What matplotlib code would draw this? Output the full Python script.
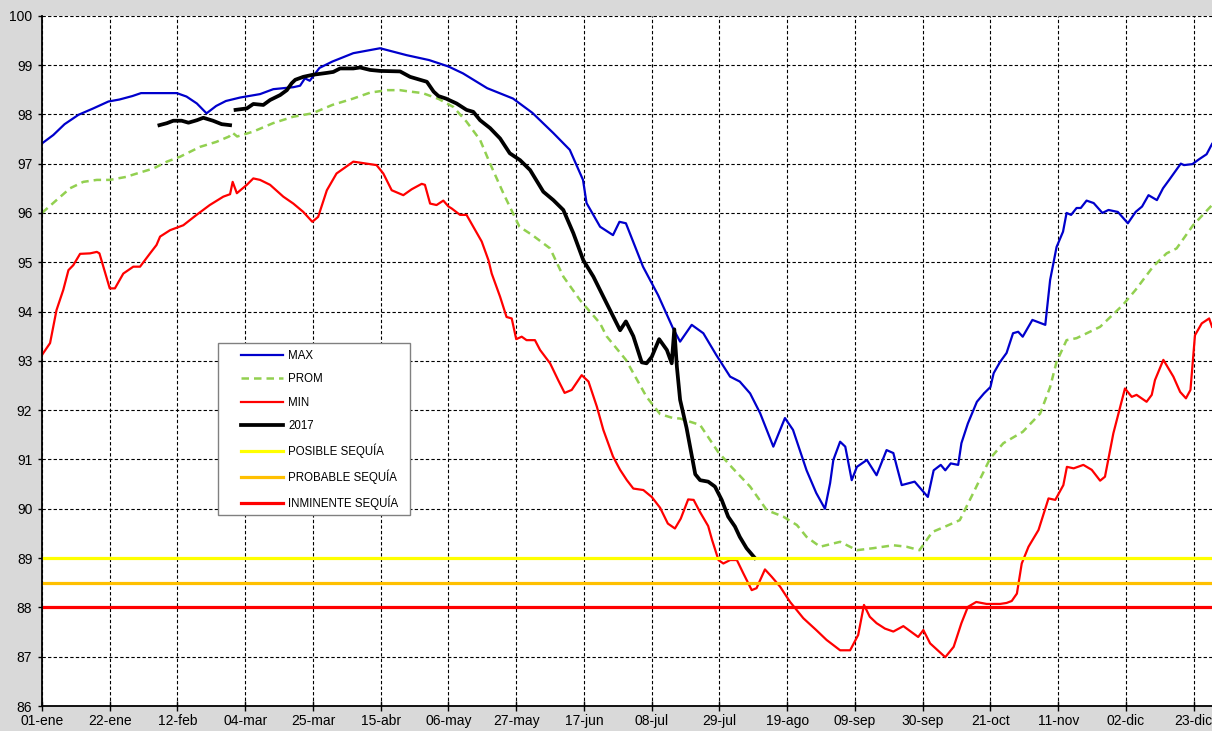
import numpy as np
import matplotlib
matplotlib.use("Agg")
import matplotlib.pyplot as plt
from matplotlib.patches import Rectangle

plt.rcParams['font.family'] = ['Liberation Sans', 'DejaVu Sans']

# dias del año (01-ene = 1) y niveles
max_dias = [1, 4.5, 8, 12.3, 16.9, 21.6, 25, 29, 31.7, 42.8, 45.8, 49, 52, 55, 58, 62.4, 68.6,
            72.7, 78.9, 81, 82.5, 84, 87, 91, 97.5, 105.8, 114, 121, 127, 131.5, 139, 147, 153,
            159.5, 164.6, 168.7, 169.8, 174, 178, 180, 182, 187.3, 192, 196.6, 198.8, 202.4, 206,
            210, 214.3, 217.3, 220.5, 223.6, 227.7, 231.3, 233.8, 238, 241, 243.7, 245.3, 246.3,
            248.4, 250, 252, 253.6, 256.7, 259.7, 262.8, 264.9, 266, 267.5, 271.5, 275.6, 277.4,
            279.6, 281, 282.7, 285, 286, 288, 290.8, 293, 295, 296, 298, 300, 302, 303.6, 305,
            308, 312, 313.5, 315.5, 317.5, 318.6, 320, 321.7, 323, 324.8, 327, 329.7, 331.6,
            334.5, 337.6, 340, 342, 344, 346.6, 348.5, 350.4, 354, 355, 357.6, 359.7, 362, 363.7]
max_vals = [97.41, 97.58, 97.8, 97.99, 98.12, 98.26, 98.3, 98.37, 98.43, 98.43, 98.36, 98.22,
            98.02, 98.17, 98.27, 98.34, 98.41, 98.51, 98.55, 98.58, 98.73, 98.68, 98.94, 99.07,
            99.24, 99.34, 99.2, 99.1, 98.97, 98.83, 98.53, 98.32, 98.03, 97.62, 97.28, 96.67,
            96.2, 95.72, 95.55, 95.82, 95.79, 94.91, 94.33, 93.66, 93.39, 93.73, 93.56, 93.12,
            92.68, 92.58, 92.34, 91.94, 91.26, 91.84, 91.6, 90.78, 90.32, 90.0, 90.52, 90.99,
            91.36, 91.26, 90.58, 90.85, 90.99, 90.68, 91.19, 91.13, 90.85, 90.48, 90.55, 90.24,
            90.78, 90.89, 90.78, 90.92, 90.89, 91.33, 91.73, 92.17, 92.34, 92.47, 92.75, 92.98,
            93.16, 93.56, 93.59, 93.49, 93.83, 93.73, 94.64, 95.31, 95.62, 96.0, 95.96, 96.1,
            96.1, 96.25, 96.2, 96.0, 96.06, 96.02, 95.79, 96.02, 96.13, 96.36, 96.26, 96.5,
            96.67, 97.0, 96.97, 96.99, 97.09, 97.19, 97.4]

prom_dias = [1, 5.5, 9.7, 13.8, 18, 22, 27, 31.4, 35.5, 39.7, 43.8, 50, 55, 59, 60, 61.5, 66.5,
             72.6, 78.8, 84.8, 91, 97.5, 102.7, 108, 112, 114, 119, 124, 128.5, 132.6, 136.8,
             139.9, 144, 149, 153, 158.5, 162.6, 167.8, 174, 176, 182, 188.4, 192.6, 196.6, 198.8,
             205, 210.6, 215, 220.5, 225.7, 230.8, 235, 238, 242.2, 248.4, 253.6, 258.6, 264.9,
             269, 273, 277, 281, 285.5, 289.6, 294.9, 299, 305, 310.4, 313.5, 315.5, 318.6,
             321.7, 329, 336, 340, 345.4, 349.6, 352.7, 357.8, 363.7]
prom_vals = [96.0, 96.26, 96.5, 96.63, 96.67, 96.67, 96.73, 96.82, 96.9, 97.04, 97.14, 97.34,
             97.44, 97.55, 97.63, 97.55, 97.65, 97.82, 97.95, 98.02, 98.19, 98.32, 98.44, 98.49,
             98.49, 98.47, 98.43, 98.31, 98.15, 97.85, 97.48, 97.0, 96.4, 95.72, 95.55, 95.28,
             94.71, 94.23, 93.76, 93.5, 93.02, 92.27, 91.92, 91.84, 91.83, 91.7, 91.15, 90.83,
             90.45, 89.97, 89.84, 89.67, 89.43, 89.23, 89.33, 89.16, 89.2, 89.26, 89.23, 89.16,
             89.53, 89.64, 89.77, 90.31, 91.02, 91.33, 91.56, 91.93, 92.47, 92.98, 93.42, 93.46,
             93.69, 94.13, 94.44, 94.91, 95.18, 95.28, 95.75, 96.16]

min_dias = [1, 3.5, 5.5, 7.6, 9.2, 10.7, 12.8, 15.9, 18, 18.8, 22, 23.6, 26.2, 29.3, 31.4, 34.5,
            36.5, 37.6, 40.7, 44.8, 48.9, 53, 57.2, 59.3, 60.1, 61.4, 64.5, 66.5, 68.6, 71.7,
            75.8, 78.9, 82, 84.8, 86.6, 89.3, 92.3, 97.5, 101.6, 104.7, 106.8, 109.4, 113, 115.6,
            118.7, 119.7, 121.3, 123.3, 125.4, 127, 128, 130.6, 132.6, 134.7, 137.3, 139.4,
            140.4, 143, 145, 146.6, 148, 149.7, 151.2, 153.8, 155.4, 158.5, 161, 163, 165.2,
            168.3, 170.4, 173, 175, 178, 180.2, 182.3, 184.3, 187.4, 190, 192.6, 195, 197.2, 199,
            201.3, 203, 205, 207.5, 208.7, 210.7, 212.2, 214.3, 216.4, 218.4, 221, 222.5, 225.1,
            227.2, 229.8, 232.9, 237, 241, 244.2, 248.4, 251.5, 254, 255.8, 257.6, 259.7, 262.3,
            264.9, 268, 271.1, 272.6, 274.2, 276.3, 281, 283.6, 286, 288, 290.6, 293.8, 298, 300,
            301.6, 303.2, 304.7, 306.8, 309.9, 313, 315.1, 317.6, 318.7, 320.8, 323.8, 326.4,
            329, 330.5, 333.1, 336.7, 338.8, 340.3, 343.4, 345, 346, 348.6, 351.7, 353.8, 355.6,
            357, 358.4, 360.5, 362.8, 363.7]
min_vals = [93.12, 93.36, 94.03, 94.44, 94.84, 94.94, 95.17, 95.18, 95.21, 95.18, 94.47, 94.47,
            94.77, 94.91, 94.91, 95.18, 95.35, 95.52, 95.65, 95.75, 95.96, 96.16, 96.33, 96.38,
            96.63, 96.4, 96.57, 96.7, 96.67, 96.57, 96.33, 96.19, 96.02, 95.82, 95.92, 96.46,
            96.8, 97.04, 97.0, 96.97, 96.8, 96.46, 96.36, 96.48, 96.59, 96.57, 96.19, 96.16,
            96.25, 96.13, 96.09, 95.96, 95.96, 95.72, 95.42, 95.04, 94.77, 94.3, 93.89, 93.86,
            93.44, 93.49, 93.42, 93.42, 93.22, 92.95, 92.61, 92.35, 92.41, 92.71, 92.58, 92.07,
            91.6, 91.06, 90.79, 90.58, 90.41, 90.38, 90.24, 90.02, 89.7, 89.6, 89.8, 90.19,
            90.18, 89.93, 89.65, 89.37, 88.96, 88.89, 88.96, 88.96, 88.69, 88.35, 88.39, 88.77,
            88.62, 88.42, 88.11, 87.78, 87.54, 87.34, 87.13, 87.13, 87.44, 88.05, 87.81, 87.68,
            87.57, 87.51, 87.62, 87.47, 87.4, 87.54, 87.27, 86.99, 87.2, 87.68, 88.01, 88.11,
            88.07, 88.07, 88.09, 88.13, 88.28, 88.89, 89.23, 89.57, 90.21, 90.18, 90.48, 90.85,
            90.82, 90.89, 90.79, 90.57, 90.65, 91.53, 92.44, 92.27, 92.31, 92.17, 92.31, 92.61,
            93.02, 92.68, 92.37, 92.24, 92.41, 93.52, 93.76, 93.86, 93.69]

# 2017 (hueco sin datos alrededor del 01-mar)
y2017_dias = [37.4, 39.7, 41.7, 44.3, 46.4, 49, 51, 54, 56.7, 59.3, 60.2,
              61, 64.5, 66.5, 69.6, 71.7, 74.8, 76.9, 78.4, 79.5, 82, 84.8, 89.3, 91.3, 93.4,
              97.5, 99.6, 102.7, 105.8, 112, 115.1, 118.2, 120.3, 122.4, 123.9, 126.2, 129.5,
              132.6, 134.7, 136.8, 139.9, 143, 146, 149.2, 152.3, 156.4, 159.5, 162.6, 165.7,
              168.8, 171.9, 176, 180.2, 182, 184.3, 186.9, 188.4, 190, 192.3, 194.7, 196.2, 197,
              197.8, 198.8, 200.8, 203.5, 205, 207.5, 209.6, 211.7, 213.7, 215.8, 217.3, 219.4, 222]
y2017_vals = [97.78, 97.82, 97.87, 97.87, 97.83, 97.88, 97.93, 97.87, 97.8, 97.78, np.nan,
              98.09, 98.12, 98.21, 98.19, 98.29, 98.39, 98.49, 98.63, 98.7, 98.76, 98.8, 98.84,
              98.86, 98.93, 98.93, 98.95, 98.9, 98.88, 98.87, 98.76, 98.7, 98.66, 98.46, 98.37,
              98.32, 98.22, 98.09, 98.05, 97.88, 97.72, 97.51, 97.21, 97.07, 96.87, 96.43, 96.26,
              96.06, 95.59, 95.04, 94.71, 94.17, 93.62, 93.8, 93.5, 92.97, 92.95, 93.08, 93.44,
              93.22, 92.95, 93.64, 92.88, 92.21, 91.64, 90.7, 90.58, 90.55, 90.45, 90.18, 89.84,
              89.64, 89.43, 89.2, 89.0]

umbrales = [89.0, 88.5, 88.0]
umbral_nombres = ['POSIBLE SEQUÍA', 'PROBABLE SEQUÍA', 'INMINENTE SEQUÍA']
umbral_colores = ['#FFFF00', '#FFC000', '#FF0000']

tick_dias = [1, 22, 43, 64, 85, 106, 127, 148, 169, 190, 211, 232, 253, 274, 295, 316, 337, 358]
tick_textos = ['01-ene', '22-ene', '12-feb', '04-mar', '25-mar', '15-abr', '06-may', '27-may',
               '17-jun', '08-jul', '29-jul', '19-ago', '09-sep', '30-sep', '21-oct', '11-nov',
               '02-dic', '23-dic']

W, H = 1212, 731
fig = plt.figure(figsize=(W / 100, H / 100), dpi=100, facecolor='#D9D9D9')
ax = fig.add_axes([42 / W, 1 - 706 / H, 1170 / W, (706 - 15.7) / H])
ax.set_facecolor('white')

ax.plot(max_dias, max_vals, color='#0000CC', lw=1.6, label='MAX')
ax.plot(prom_dias, prom_vals, color='#92D050', lw=1.8, ls=(0, (3, 2)), label='PROM')
ax.plot(min_dias, min_vals, color='#FF0000', lw=1.6, label='MIN')
ax.plot(y2017_dias, y2017_vals, color='black', lw=2.7, label='2017')
for v, nombre, c in zip(umbrales, umbral_nombres, umbral_colores):
    ax.axhline(v, color=c, lw=2.3, label=nombre)

ax.set_xlim(1, 1 + 1170 / 3.226)
ax.set_ylim(86, 100)
ax.set_yticks(range(86, 101))
ax.set_xticks(tick_dias)
ax.set_xticklabels(tick_textos)
ax.tick_params(axis='y', direction='out', length=3, width=1, labelsize=10, pad=4)
ax.tick_params(axis='x', direction='inout', length=7, width=1, labelsize=10, pad=2)
ax.grid(True, color='black', lw=0.8, ls=(0, (3, 2)))
ax.set_axisbelow(True)
for s in ['top', 'right']:
    ax.spines[s].set_visible(False)
ax.spines['left'].set_linewidth(1.3)
ax.spines['bottom'].set_linewidth(1.3)

# caja de la leyenda
caja = Rectangle((218 / W, 1 - 515 / H), 192 / W, 172 / H, transform=fig.transFigure,
                 facecolor='white', edgecolor='#808080', lw=1.0, zorder=5)
fig.patches.append(caja)
leg = fig.legend(loc='upper left', bbox_to_anchor=(241 / W, 1 - 350 / H),
                 fontsize=8.3, frameon=False, borderpad=0, handlelength=3.65,
                 handletextpad=0.45, labelspacing=0.99, borderaxespad=0)
leg.set_zorder(6)

fig.savefig('out.png', dpi=100, facecolor=fig.get_facecolor())
